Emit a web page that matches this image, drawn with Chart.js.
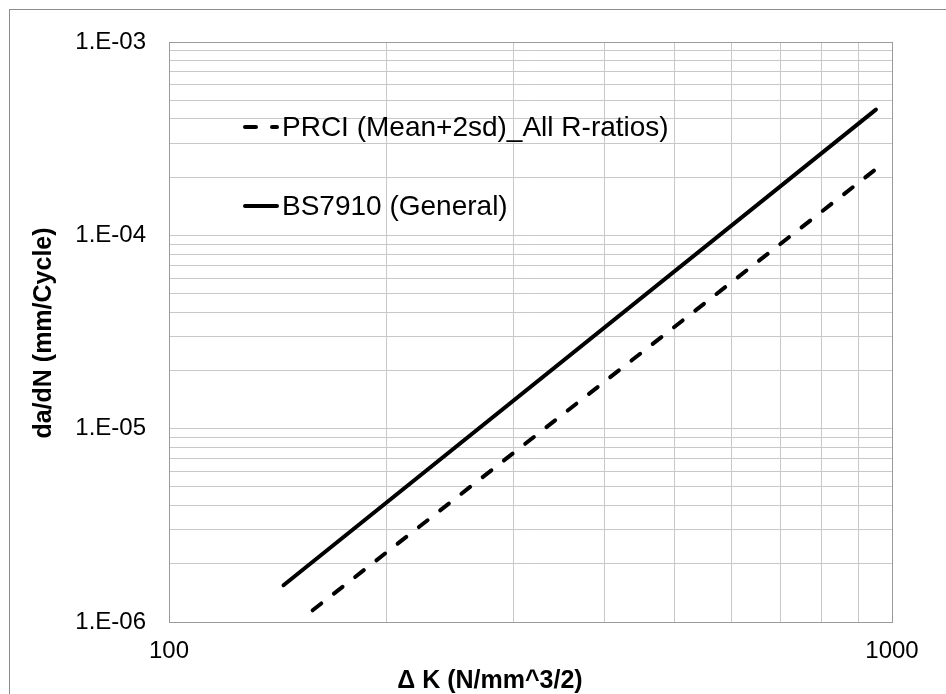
<!DOCTYPE html>
<html>
  <head>
    <title>Crack Growth Rate</title>
    <meta charset="utf-8">
    <style>
      body { margin: 0; background: #fff; }
      canvas { display: block; }
    </style>
  </head>
  <body>
    <canvas id="dadnChart" width="946" height="694"></canvas>

    <script src="https://cdn.jsdelivr.net/npm/chart.js"></script>
    <script>
      var prciLabel = 'PRCI (Mean+2sd)_All R-ratios)';
      var prciDeltaK = [158, 950];
      var prciRate = [1.15e-6, 2.2e-4];

      var bsLabel = 'BS7910 (General)';
      var bsDeltaK = [144, 950];
      var bsRate = [1.55e-6, 4.47e-4];

      // axis ranges and labelled ticks
      var xMin = 100, xMax = 1000;
      var yMin = 1e-6, yMax = 1e-3;
      var xLabelled = [100, 1000];
      var yLabelled = [1e-6, 1e-5, 1e-4, 1e-3];

      var FONT = "'Liberation Sans', Arial, sans-serif";

      function toPoints(xs, ys) {
        return xs.map(function (x, i) { return { x: x, y: ys[i] }; });
      }

      function expLabel(v) {
        var e = Math.round(Math.log10(v));
        return '1.E' + (e < 0 ? '-' : '+') + String(Math.abs(e)).padStart(2, '0');
      }

      // 1..9 steps in every decade, for the grid
      function logTicks(min, max) {
        var ticks = [];
        for (var d = Math.round(Math.log10(min)); d < Math.round(Math.log10(max)); d++) {
          for (var m = 1; m < 10; m++) ticks.push({ value: m * Math.pow(10, d) });
        }
        ticks.push({ value: max });
        return ticks;
      }

      var frame = {
        id: 'frame',
        beforeDraw: function (chart) {
          var ctx = chart.ctx;
          ctx.save();
          ctx.fillStyle = '#fff';
          ctx.fillRect(0, 0, chart.width, chart.height);
          ctx.strokeStyle = '#8c8c8c';
          ctx.lineWidth = 1;
          ctx.strokeRect(9.5, 9.5, chart.width + 20, chart.height + 20);
          ctx.restore();
        },
        afterDraw: function (chart) {
          var ctx = chart.ctx;
          var a = chart.chartArea;
          ctx.save();

          // plot area border
          ctx.strokeStyle = '#9a9a9a';
          ctx.lineWidth = 1;
          ctx.strokeRect(a.left + 0.5, a.top + 0.5, a.right - a.left, a.bottom - a.top);

          // axis titles
          ctx.fillStyle = '#000';
          ctx.font = 'bold 25px ' + FONT;
          ctx.textAlign = 'center';
          ctx.textBaseline = 'alphabetic';
          ctx.fillText('\u0394 K (N/mm^3/2)', 490, 688);

          ctx.save();
          ctx.translate(51, 333);
          ctx.rotate(-Math.PI / 2);
          ctx.fillText('da/dN (mm/Cycle)', 0, 0);
          ctx.restore();

          // legend inside the plot
          var rows = [127, 206];
          ctx.font = '28px ' + FONT;
          ctx.textAlign = 'left';
          ctx.textBaseline = 'middle';
          chart.data.datasets.forEach(function (ds, i) {
            var y = rows[i];
            ctx.save();
            ctx.strokeStyle = ds.borderColor;
            ctx.lineWidth = ds.borderWidth;
            ctx.lineCap = 'round';
            ctx.setLineDash(ds.borderDash || []);
            ctx.beginPath();
            ctx.moveTo(245, y);
            ctx.lineTo(277, y);
            ctx.stroke();
            ctx.restore();
            ctx.fillText(ds.label, 282, y + 1);
          });

          ctx.restore();
        }
      };

      var config = {
        type: 'scatter',
        data: {
          datasets: [{
            label: prciLabel,
            data: toPoints(prciDeltaK, prciRate),
            showLine: true,
            borderColor: '#000',
            borderWidth: 4,
            borderDash: [11, 16],
            borderCapStyle: 'round',
            pointRadius: 0
          }, {
            label: bsLabel,
            data: toPoints(bsDeltaK, bsRate),
            showLine: true,
            borderColor: '#000',
            borderWidth: 4,
            borderCapStyle: 'round',
            pointRadius: 0
          }]
        },
        options: {
          responsive: false,
          animation: false,
          layout: {
            padding: { top: 42, right: 54, left: 0, bottom: 0 }
          },
          scales: {
            x: {
              type: 'logarithmic',
              min: xMin,
              max: xMax,
              afterBuildTicks: function (scale) { scale.ticks = logTicks(xMin, xMax); },
              afterFit: function (scale) { scale.height = 72; },
              ticks: {
                autoSkip: false,
                maxRotation: 0,
                padding: 15,
                color: '#000',
                font: { family: FONT, size: 24 },
                callback: function (v) { return xLabelled.indexOf(v) >= 0 ? String(v) : ''; }
              },
              grid: { color: '#c8c8c8', drawTicks: false },
              border: { display: false }
            },
            y: {
              type: 'logarithmic',
              min: yMin,
              max: yMax,
              afterBuildTicks: function (scale) { scale.ticks = logTicks(yMin, yMax); },
              afterFit: function (scale) { scale.width = 169; },
              ticks: {
                autoSkip: false,
                padding: 23,
                color: '#000',
                font: { family: FONT, size: 24 },
                callback: function (v) {
                  var hit = yLabelled.some(function (t) { return Math.abs(t - v) / t < 1e-6; });
                  return hit ? expLabel(v) : '';
                }
              },
              grid: { color: '#c8c8c8', drawTicks: false },
              border: { display: false }
            }
          },
          plugins: {
            legend: { display: false },
            tooltip: { enabled: false }
          }
        },
        plugins: [frame]
      };

      var dadnChart = new Chart(document.getElementById('dadnChart'), config);
    </script>
  </body>
</html>
